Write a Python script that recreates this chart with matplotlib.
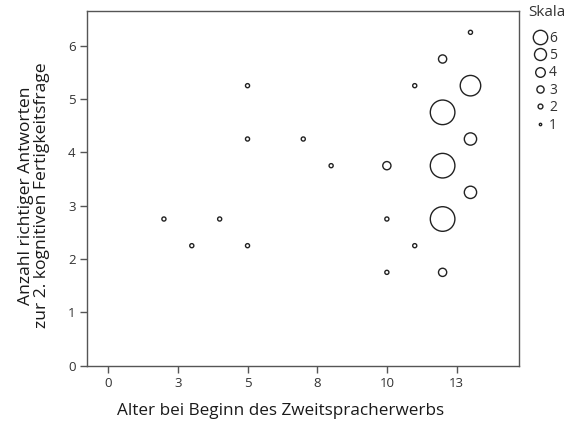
import matplotlib.pyplot as plt
from matplotlib.lines import Line2D

plt.rcParams['font.family'] = ['Open Sans', 'DejaVu Sans']

# Alter bei Beginn (x), Anzahl richtiger Antworten (y), Häufigkeit (n)
alter = [13, 12, 5, 11, 13, 12, 5, 7, 13, 8, 10, 12, 13, 2, 4, 10, 12, 3, 5, 11, 10, 12]
antworten = [6.25, 5.75, 5.25, 5.25, 5.25, 4.75, 4.25, 4.25, 4.25, 3.75, 3.75, 3.75,
             3.25, 2.75, 2.75, 2.75, 2.75, 2.25, 2.25, 2.25, 1.75, 1.75]
anzahl = [1, 2, 1, 1, 5, 6, 1, 1, 3, 1, 2, 6, 3, 1, 1, 1, 6, 1, 1, 1, 1, 2]

xticks = [0, 2.5, 5, 7.5, 10, 12.5]
xticklabels = ['0', '3', '5', '8', '10', '13']
yticks = [0, 1, 2, 3, 4, 5, 6]
skala = [6, 5, 4, 3, 2, 1]

px = 72 / 100  # points per pixel


def area(n, scale):
    d = scale * n * px
    return d * d


fig = plt.figure(figsize=(5.65, 4.23), dpi=100)
ax = fig.add_axes([0.1545, 0.1355, 0.7645, 0.8385])

ax.scatter(alter, antworten, s=[area(n, 4.1) for n in anzahl],
           facecolors='none', edgecolors='#222222', linewidths=1.0)

ax.set_xlim(-0.75, 14.75)
ax.set_ylim(0, 6.65)
ax.set_xticks(xticks)
ax.set_xticklabels(xticklabels)
ax.set_yticks(yticks)

for s in ax.spines.values():
    s.set_color('#555555')
    s.set_linewidth(1.0)
ax.tick_params(axis='both', colors='#555555', labelcolor='#333333',
               length=5, width=1.0, labelsize=9.5)

ax.set_xlabel('Alter bei Beginn des Zweitspracherwerbs', fontsize=12.3,
              color='#1a1a1a')
ax.xaxis.set_label_coords(0.448, -0.105)
ax.set_ylabel('Anzahl richtiger Antworten\nzur 2. kognitiven Fertigkeitsfrage',
              fontsize=12.6, color='#1a1a1a', linespacing=1.05)
ax.yaxis.set_label_coords(-0.086, 0.48)

handles = [Line2D([], [], linestyle='none', marker='o', markerfacecolor='none',
                  markeredgecolor='#222222', markeredgewidth=1.0,
                  markersize=2.4 * n * px) for n in skala]
leg = ax.legend(handles, [str(n) for n in skala],
                loc='upper left', bbox_to_anchor=(1.018, 0.96), frameon=False,
                fontsize=10, handlelength=1.0,
                handletextpad=0.2, labelspacing=0.17, borderpad=0.2,
                borderaxespad=0.2)
for t in leg.get_texts():
    t.set_color('#333333')
fig.text(547 / 565, 1 - 12 / 423, 'Skala', ha='center', va='center',
         fontsize=11, color='#333333')

fig.savefig('out.png', dpi=100)
